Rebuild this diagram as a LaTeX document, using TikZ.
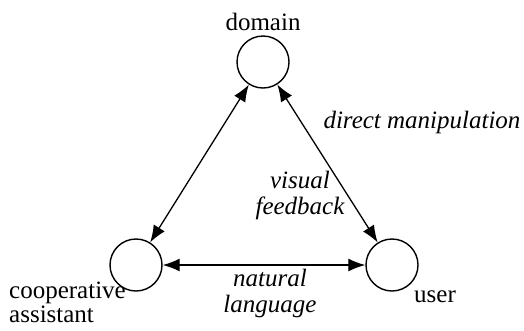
\documentclass[tikz,border=0pt]{standalone}
\usepackage{fontspec}
\setmainfont{Liberation Serif}
\usetikzlibrary{arrows.meta}
\begin{document}
\begin{tikzpicture}[x=1pt,y=-1pt,
  agent/.style={circle,draw,line width=1.4pt,minimum size=52pt,inner sep=0pt},
  lbl/.style={inner sep=0pt,font=\fontsize{25}{24}\selectfont},
  ilbl/.style={inner sep=0pt,font=\fontsize{25}{26}\selectfont\itshape,align=center},
  link/.style={line width=1.3pt,{Latex[length=17pt,width=13pt]}-{Latex[length=17pt,width=13pt]}}]
\useasboundingbox (0,0) rectangle (524,330);
\node[lbl,align=left,anchor=north west] (calbl) at (9,282) {cooperative\\assistant};
\node[agent] (dom) at (263,62) {};
\node[agent] (ca) at (136,265) {};
\node[agent] (usr) at (392,265) {};
\node[lbl] (domlbl) at (263,22) {domain};
\node[lbl,anchor=west] (usrlbl) at (414,297) {user};
\node[ilbl] (nl) at (270,293) {natural\\language};
\node[ilbl] (vf) at (300,195) {visual\\feedback};
\node[ilbl] (dm) at (422,122) {direct manipulation};
\draw[link] (dom) -- (ca);
\draw[link] (dom) -- (usr);
\draw[link] (ca) -- (usr);
\end{tikzpicture}
\end{document}
